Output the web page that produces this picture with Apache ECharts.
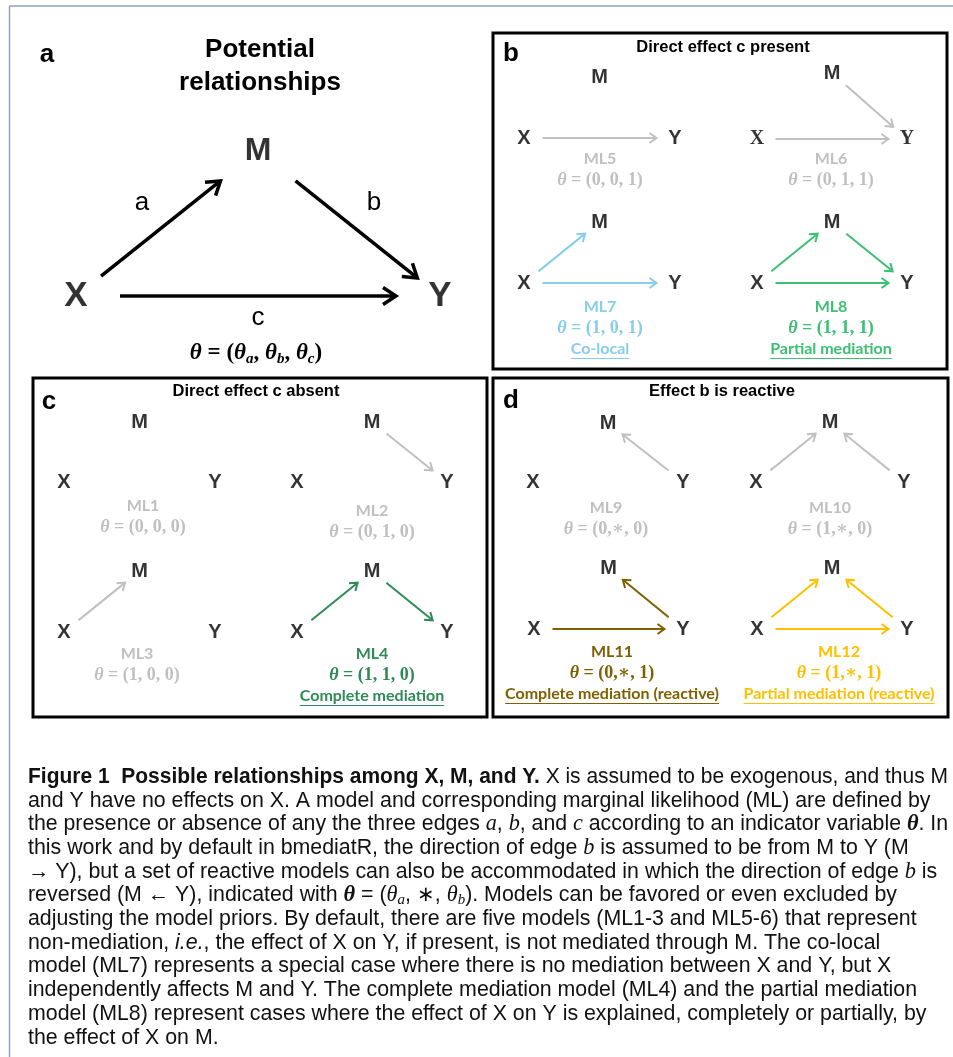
<!DOCTYPE html>
<html>
<head>
<meta charset="utf-8">
<script src="https://cdn.jsdelivr.net/npm/echarts@6.0.0/dist/echarts.min.js"></script>
<style>
  html, body { margin: 0; padding: 0; background: #fff; }
  #chart { width: 953px; height: 1057px; }
</style>
</head>
<body>
<div id="chart"></div>
<script>
// ---- data -------------------------------------------------------------
// The three variables, placed in diagram units (X bottom-left, M top, Y bottom-right)
const nodeNames = ['X', 'M', 'Y'];
const nodeXs = [0, 1, 2];
const nodeYs = [0, 1, 0];

// Edge names of the overview diagram
const edgeNames = ['a', 'b', 'c'];

const panelLetters = ['a', 'b', 'c', 'd'];
const panelTitles = ['Potential\nrelationships', 'Direct effect c present', 'Direct effect c absent', 'Effect b is reactive'];

// Models: indicator theta = (theta_a, theta_b, theta_c); '*' marks a reversed edge b
const modelNames = ['ML1', 'ML2', 'ML3', 'ML4', 'ML5', 'ML6', 'ML7', 'ML8', 'ML9', 'ML10', 'ML11', 'ML12'];
const modelThetas = [
  [0, 0, 0], [0, 1, 0], [1, 0, 0], [1, 1, 0],
  [0, 0, 1], [0, 1, 1], [1, 0, 1], [1, 1, 1],
  [0, '*', 0], [1, '*', 0], [0, '*', 1], [1, '*', 1]
];
const modelNotes = ['', '', '', 'Complete mediation', '', '', 'Co-local', 'Partial mediation',
  '', '', 'Complete mediation (reactive)', 'Partial mediation (reactive)'];

const captionLines = [
  '{b|Figure 1  Possible relationships among X, M, and Y.}{r| X is assumed to be exogenous, and thus M}',
  '{r|and Y have no effects on X. A model and corresponding marginal likelihood (ML) are defined by}',
  '{r|the presence or absence of any the three edges }{m|a}{r|, }{m|b}{r|, and }{m|c}{r| according to an indicator variable }{bm|θ}{r|. In}',
  '{r|this work and by default in bmediatR, the direction of edge }{m|b}{r| is assumed to be from M to Y (M}',
  '{r|→ Y), but a set of reactive models can also be accommodated in which the direction of edge }{m|b}{r| is}',
  '{r|reversed (M ← Y), indicated with }{bm|θ}{r| = (}{m|θ}{sub|a}{r|, ∗, }{m|θ}{sub|b}{r|). Models can be favored or even excluded by}',
  '{r|adjusting the model priors. By default, there are five models (ML1-3 and ML5-6) that represent}',
  '{r|non-mediation, }{it|i.e.}{r|, the effect of X on Y, if present, is not mediated through M. The co-local}',
  '{r|model (ML7) represents a special case where there is no mediation between X and Y, but X}',
  '{r|independently affects M and Y. The complete mediation model (ML4) and the partial mediation}',
  '{r|model (ML8) represent cases where the effect of X on Y is explained, completely or partially, by}',
  '{r|the effect of X on M.}'
];

// ---- layout and style ------------------------------------------------------
const GRAY = '#c0c0c0';
const modelInk = { ML4: '#2e8b57', ML7: '#87ceeb', ML8: '#3cc072', ML11: '#7f6000', ML12: '#ffc000' };
const SANS = '"Liberation Sans", Arial, sans-serif';
const SERIF = '"Liberation Serif", "DejaVu Serif", serif';
const NOTE_FONT_FAMILY = 'Lato, "Open Sans", sans-serif';

// page-pixel frame of each diagram (X at left/bottom, M at top, Y at right/bottom),
// plus the centre and top line of the text block under it
const overviewFrame = { left: 76, top: 151, right: 440, bottom: 296 };
const modelFrames = {
  ML5:  { left: 524, top: 77,  right: 675, bottom: 138, cx: 600, ty: 159 },
  ML6:  { left: 757, top: 73,  right: 907, bottom: 139, cx: 831, ty: 159 },
  ML7:  { left: 524, top: 222, right: 675, bottom: 283, cx: 600, ty: 307 },
  ML8:  { left: 757, top: 222, right: 907, bottom: 283, cx: 831, ty: 307 },
  ML1:  { left: 64,  top: 422, right: 215, bottom: 482, cx: 143, ty: 506 },
  ML2:  { left: 297, top: 422, right: 447, bottom: 482, cx: 372, ty: 511 },
  ML3:  { left: 64,  top: 571, right: 215, bottom: 632, cx: 137, ty: 654 },
  ML4:  { left: 297, top: 571, right: 447, bottom: 632, cx: 372, ty: 654 },
  ML9:  { left: 533, top: 423, right: 683, bottom: 482, cx: 606, ty: 508 },
  ML10: { left: 756, top: 422, right: 904, bottom: 482, cx: 830, ty: 508 },
  ML11: { left: 534, top: 568, right: 683, bottom: 629, cx: 612, ty: 652 },
  ML12: { left: 757, top: 568, right: 907, bottom: 629, cx: 839, ty: 652 }
};
const panelBoxes = [null,
  { x: 493, y: 33, width: 454, height: 336 },
  { x: 33, y: 378, width: 454, height: 339 },
  { x: 493, y: 378, width: 455, height: 339 }];
const letterPos = [[47, 55], [511, 54], [49, 402], [511, 401]];
const titlePos = [[260, 66], [723, 47], [256, 391], [722, 391]];

const measureCtx = document.createElement('canvas').getContext('2d');
function textWidth(font, s) { measureCtx.font = font; return measureCtx.measureText(s).width; }
function richWidth(line, rich) {
  let w = 0;
  line.replace(/\{(\w+)\|([^}]*)\}/g, (m, k, s) => { w += textWidth(rich[k].font, s); return m; });
  return w;
}

// edges implied by an indicator vector, as [from, to] node indices
function edgesOf(theta) {
  const e = [];
  if (theta[0] === 1) e.push([0, 1]);
  if (theta[1] === 1) e.push([1, 2]);
  if (theta[1] === '*') e.push([2, 1]);
  if (theta[2] === 1) e.push([0, 2]);
  return e;
}

function thetaText(t) {
  return t[1] === '*' ? '(' + t[0] + ',∗, ' + t[2] + ')' : '(' + t.join(', ') + ')';
}

// arrows drawn in pixel space after the axes map the node positions
function arrowRenderer(edges, st) {
  return function (params, api) {
    const e = edges[params.dataIndex];
    const p = api.coord([api.value(0), api.value(1)]);
    const q = api.coord([api.value(2), api.value(3)]);
    const dx = q[0] - p[0], dy = q[1] - p[1];
    const len = Math.hypot(dx, dy);
    const ux = dx / len, uy = dy / len;
    const horiz = Math.abs(uy) < 0.01;
    const g0 = st.gap(nodeNames[e[0]], horiz), g1 = st.gap(nodeNames[e[1]], horiz);
    const s = [p[0] + ux * g0, p[1] + uy * g0];
    const t = [q[0] - ux * g1, q[1] - uy * g1];
    const hl = st.head, hw = st.headW;
    const l = [t[0] - ux * hl - uy * hw, t[1] - uy * hl + ux * hw];
    const r = [t[0] - ux * hl + uy * hw, t[1] - uy * hl - ux * hw];
    const children = [
      { type: 'line', shape: { x1: s[0], y1: s[1], x2: t[0] - ux * st.width * 0.6, y2: t[1] - uy * st.width * 0.6 },
        style: { stroke: st.color, lineWidth: st.width } },
      { type: 'polyline', shape: { points: [l, t, r] },
        style: { stroke: st.color, lineWidth: st.width, fill: null, lineJoin: 'miter' } }
    ];
    if (st.labels) {
      // edge name on the side facing away from the triangle
      const mx = (p[0] + q[0]) / 2, my = (p[1] + q[1]) / 2;
      let nx = uy, ny = -ux;
      const c = st.centroid;
      if ((mx - c[0]) * nx + (my - c[1]) * ny < 0) { nx = -nx; ny = -ny; }
      const ox = horiz ? 0 : nx * 40, oy = horiz ? ny * 22 : ny * 26;
      children.push({ type: 'text', x: mx + ox, y: my + oy,
        style: { text: st.labels[params.dataIndex], font: st.labelFont, fill: '#000',
          align: 'center', verticalAlign: 'middle' } });
    }
    return { type: 'group', children: children };
  };
}

const grids = [], xAxes = [], yAxes = [], series = [], graphics = [];

function addDiagram(frame, edges, st, nodeStyle) {
  const gi = grids.length;
  grids.push({ left: frame.left, top: frame.top, width: frame.right - frame.left,
    height: frame.bottom - frame.top, containLabel: false, outerBoundsMode: 'none', show: false });
  xAxes.push({ type: 'value', gridIndex: gi, min: 0, max: 2, show: false });
  yAxes.push({ type: 'value', gridIndex: gi, min: 0, max: 1, show: false });
  series.push({
    type: 'custom', xAxisIndex: gi, yAxisIndex: gi, silent: true, clip: false,
    renderItem: arrowRenderer(edges, st),
    encode: { x: [0, 2], y: [1, 3] },
    data: edges.map(e => [nodeXs[e[0]], nodeYs[e[0]], nodeXs[e[1]], nodeYs[e[1]]])
  });
  series.push({
    type: 'scatter', xAxisIndex: gi, yAxisIndex: gi, silent: true, symbolSize: 0,
    data: nodeNames.map((n, i) => ({
      name: n, value: [nodeXs[i], nodeYs[i]],
      label: nodeStyle(n)
    })),
    label: { show: true, position: 'inside', formatter: '{b}', color: '#000', fontWeight: 'bold' }
  });
}

// overview diagram (panel a)
const overviewEdges = [[0, 1], [1, 2], [0, 2]];
addDiagram(overviewFrame, overviewEdges, {
  color: '#000', width: 3.5, head: 13, headW: 8.5,
  gap: (n, h) => h ? 44 : ({ X: 32, M: 48, Y: 29 })[n],
  labels: edgeNames, labelFont: '26px ' + SANS,
  centroid: [(overviewFrame.left + overviewFrame.right) / 2,
             (overviewFrame.bottom * 2 + overviewFrame.top) / 3]
}, n => ({ fontSize: n === 'M' ? 32 : 35, fontFamily: SANS }));

// the twelve models
modelNames.forEach((name, i) => {
  const fr = modelFrames[name];
  const ink = modelInk[name] || GRAY;
  addDiagram(fr, edgesOf(modelThetas[i]), {
    color: ink, width: 2, head: 7, headW: 5, gap: () => 18.5
  }, n => ({ fontSize: 20, fontFamily: (name === 'ML6' && n !== 'M') ? SERIF : SANS }));

  graphics.push({ type: 'text', x: fr.cx, y: fr.ty, silent: true,
    style: { text: name, font: 'bold 16px ' + NOTE_FONT_FAMILY, fill: ink, align: 'center', verticalAlign: 'middle' } });
  graphics.push({ type: 'text', x: fr.cx, y: fr.ty + 21, silent: true,
    style: { text: '{i|θ}{n| = ' + thetaText(modelThetas[i]) + '}', align: 'center', verticalAlign: 'middle',
      rich: {
        i: { font: 'italic bold 18px ' + SERIF, fill: ink, lineHeight: 22 },
        n: { font: 'bold 18px ' + SERIF, fill: ink, lineHeight: 22 }
      } } });
  const note = modelNotes[i];
  if (note) {
    const f = 'bold 16px ' + NOTE_FONT_FAMILY;
    const w = textWidth(f, note);
    graphics.push({ type: 'text', x: fr.cx, y: fr.ty + 42, silent: true,
      style: { text: note, font: f, fill: ink, align: 'center', verticalAlign: 'middle' } });
    graphics.push({ type: 'line', silent: true,
      shape: { x1: fr.cx - w / 2, y1: fr.ty + 51.5, x2: fr.cx + w / 2, y2: fr.ty + 51.5 },
      style: { stroke: ink, lineWidth: 1.2 } });
  }
});

// overview formula
graphics.push({ type: 'text', x: 256, y: 353, silent: true,
  style: { text: '{i|θ}{n| = (}{i|θ}{s|a}{n|, }{i|θ}{s|b}{n|, }{i|θ}{s|c}{n|)}',
    align: 'center', verticalAlign: 'middle',
    rich: {
      i: { font: 'italic bold 23px ' + SERIF, fill: '#000', lineHeight: 28 },
      n: { font: 'bold 23px ' + SERIF, fill: '#000', lineHeight: 28 },
      s: { font: 'italic bold 15px ' + SERIF, fill: '#000', lineHeight: 15, verticalAlign: 'bottom' }
    } } });

// outer page rule
graphics.push({ type: 'line', silent: true, shape: { x1: 9.5, y1: 6, x2: 953, y2: 6 },
  style: { stroke: '#8ea2c4', lineWidth: 1.5 } });
graphics.push({ type: 'line', silent: true, shape: { x1: 9.5, y1: 6, x2: 9.5, y2: 1057 },
  style: { stroke: '#8ea2c4', lineWidth: 1.5 } });

// panels
panelLetters.forEach((L, i) => {
  if (panelBoxes[i]) {
    graphics.push({ type: 'rect', silent: true, shape: panelBoxes[i],
      style: { fill: 'none', stroke: '#000', lineWidth: 3 } });
  }
  graphics.push({ type: 'text', x: letterPos[i][0], y: letterPos[i][1], silent: true,
    style: { text: L, font: 'bold 26px ' + SANS, fill: '#000', align: 'center', verticalAlign: 'middle' } });
  graphics.push({ type: 'text', x: titlePos[i][0], y: titlePos[i][1], silent: true,
    style: { text: panelTitles[i], font: (i === 0 ? 'bold 26px ' : 'bold 16.5px ') + SANS, fill: '#000',
      align: 'center', verticalAlign: 'middle', lineHeight: i === 0 ? 33 : 20 } });
});

// caption, sized so the full-width lines fill the text column
const capFamily = '"Liberation Sans", Arial, sans-serif';
const capPlain = 'and Y have no effects on X. A model and corresponding marginal likelihood (ML) are defined by';
const capSize = 20 * 903 / textWidth('20px ' + capFamily, capPlain);
const capRich = {
  r: { font: capSize + 'px ' + capFamily, fill: '#111', lineHeight: 24 },
  b: { font: 'bold ' + capSize + 'px ' + capFamily, fill: '#111', lineHeight: 24 },
  it: { font: 'italic ' + capSize + 'px ' + capFamily, fill: '#111', lineHeight: 24 },
  m: { font: 'italic ' + (capSize + 1) + 'px ' + SERIF, fill: '#111', lineHeight: 24 },
  bm: { font: 'italic bold ' + (capSize + 1) + 'px ' + SERIF, fill: '#111', lineHeight: 24 },
  sub: { font: 'italic ' + (capSize * 0.7) + 'px ' + SERIF, fill: '#111', lineHeight: 14, verticalAlign: 'bottom' }
};
const capMaxWidth = 920;
captionLines.forEach((line, i) => {
  const w = richWidth(line, capRich);
  const sx = w > capMaxWidth ? capMaxWidth / w : 1;
  graphics.push({ type: 'text', x: 28, y: 777 + i * 23.7, scaleX: sx, silent: true,
    style: { text: line, rich: capRich, align: 'left', verticalAlign: 'middle' } });
});

const chart = echarts.init(document.getElementById('chart'), null, { renderer: 'canvas' });
chart.setOption({
  animation: false,
  backgroundColor: '#fff',
  grid: grids,
  xAxis: xAxes,
  yAxis: yAxes,
  series: series,
  graphic: graphics
});
</script>
</body>
</html>
